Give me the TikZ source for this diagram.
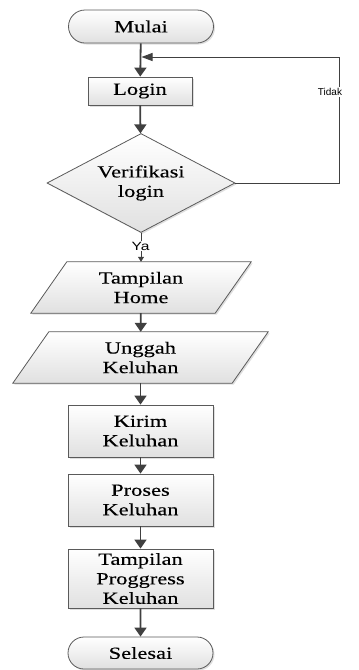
\documentclass[tikz,border=0pt]{standalone}
\usepackage{fontspec}
\setmainfont{Liberation Serif}[FakeStretch=1.32,FakeBold=0.25]
\newfontfamily\lsans{Liberation Sans}
\newfontfamily\lsansw{Liberation Sans}[FakeStretch=1.3]
\usetikzlibrary{shapes.geometric,shapes.misc,arrows.meta,shadows,backgrounds}
\definecolor{bordc}{HTML}{5A5A5A}
\definecolor{arrc}{HTML}{404040}
\begin{document}
\begin{tikzpicture}[x=1pt,y=-1pt,
  shp/.style={draw=bordc, line width=0.8pt, top color=white, bottom color=black!12,
    drop shadow={shadow xshift=1.5pt, shadow yshift=-1.5pt, opacity=0.25}},
  txt/.style={align=center, font=\fontsize{17}{19.5}\selectfont, inner sep=0pt},
  term/.style={shp, txt, rounded rectangle, minimum width=145pt, minimum height=33pt},
  proc/.style={shp, txt, rectangle, minimum width=145pt},
  dec/.style={shp, txt, diamond, aspect=1.9, minimum width=188pt, minimum height=99pt},
  para/.style={txt, minimum height=51pt},
  arr/.style={draw=arrc, line width=1.8pt, -{Triangle[width=12pt,length=9pt]}},
  fb/.style={draw=arrc, line width=1pt, -{Triangle[width=8pt,length=11pt]}},
  yaarr/.style={draw=arrc, line width=0.8pt, -{Triangle[width=6pt,length=5pt]}},
  lab/.style={fill=white, inner sep=1pt}
]
\path[use as bounding box] (0,0) rectangle (359,670);

\node[term] (mulai) at (141,26.5) {Mulai};
\node[proc, minimum width=104pt, minimum height=28pt] (login) at (140,91) {Login};
\node[dec] (ver) at (141,183) {Verifikasi\\login};
\node[para, minimum width=184pt] (th) at (141,287.5) {Tampilan\\Home};
\node[para, minimum width=219pt] (uk) at (140.5,357.5) {Unggah\\Keluhan};
\node[proc, minimum height=52pt] (kirim) at (140.5,431) {Kirim\\Keluhan};
\node[proc, minimum height=52pt] (proses) at (140.5,500) {Proses\\Keluhan};
\node[proc, minimum height=59pt] (tpk) at (140.5,578.5) {Tampilan\\Proggress\\Keluhan};
\node[term, minimum height=32pt] (selesai) at (140.5,653) {Selesai};

\begin{scope}[on background layer]
\path[shp] ([xshift=18pt]th.north west) -- ([xshift=18pt]th.north east)
  -- ([xshift=-18pt]th.south east) -- ([xshift=-18pt]th.south west) -- cycle;
\path[shp] ([xshift=18pt]uk.north west) -- ([xshift=18pt]uk.north east)
  -- ([xshift=-18pt]uk.south east) -- ([xshift=-18pt]uk.south west) -- cycle;
\end{scope}

\draw[arr] (mulai) -- (login);
\draw[arr] (login) -- (ver);
\draw[yaarr] (ver.south) -- (th.north);
\node[lab, font=\lsansw\fontsize{12}{13}\selectfont] (ya) at (140.5,246) {Ya};
\draw[arr] (th) -- (uk);
\draw[arr] (uk) -- (kirim);
\draw[arr] (kirim) -- (proses);
\draw[arr] (proses) -- (tpk);
\draw[arr] (tpk) -- (selesai);

\coordinate (turn) at (339,57);
\coordinate (join) at (141.5,57);
\draw[fb] (ver.east) -| (turn) -- (join);
\node[lab, font=\lsans\fontsize{10}{11}\selectfont] (tidak) at (330,92) {Tidak};
\end{tikzpicture}
\end{document}
